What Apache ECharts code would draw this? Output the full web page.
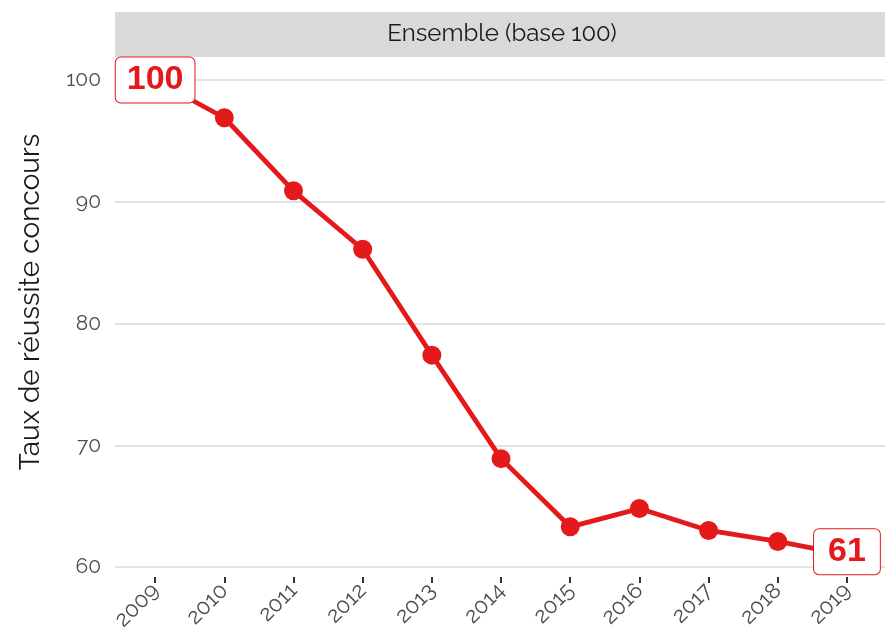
<!DOCTYPE html>
<html>
<head>
<meta charset="utf-8">
<script src="https://cdn.jsdelivr.net/npm/echarts@6/dist/echarts.min.js"></script>
<style>
  html, body { margin: 0; padding: 0; background: #fff; }
  #chart { width: 885px; height: 634px; }
</style>
</head>
<body>
<div id="chart"></div>
<script>
// données
const years = [2009, 2010, 2011, 2012, 2013, 2014, 2015, 2016, 2017, 2018, 2019];
const values = [100, 96.9, 90.9, 86.1, 77.4, 68.9, 63.3, 64.8, 63.0, 62.1, 61];
const yTicks = [60, 70, 80, 90, 100];
const panelTitle = 'Ensemble (base 100)';
const yTitle = 'Taux de réussite concours';

const red = '#e3191c';
const font = 'Raleway, Lato, "Open Sans", sans-serif';

const labelBox = {
  show: true,
  position: 'inside',
  color: red,
  fontFamily: 'Liberation Sans, Arial, sans-serif',
  fontWeight: 'bold',
  fontSize: 34,
  lineHeight: 36,
  backgroundColor: '#fff',
  borderColor: red,
  borderWidth: 1,
  borderRadius: 5,
  padding: [5, 11, 4, 11]
};

const seriesData = years.map((y, i) => {
  const item = { value: [y, values[i]] };
  if (i === 0) {
    item.label = Object.assign({}, labelBox, { formatter: String(values[i]) });
  }
  if (i === years.length - 1) {
    // boîte du dernier point un peu plus large
    item.label = Object.assign({}, labelBox, {
      formatter: String(values[i]),
      padding: [5, 14, 4, 14],
      offset: [0, -3]
    });
  }
  return item;
});

const myChart = echarts.init(document.getElementById('chart'));
const option = {
  animation: false,
  grid: { left: 115, right: 0, top: 80, bottom: 634 - 567 },
  graphic: [
    {
      type: 'rect',
      shape: { x: 115, y: 12, width: 770, height: 45 },
      style: { fill: '#d9d9d9' },
      z: 0
    },
    {
      type: 'text',
      x: 502, y: 34,
      style: {
        text: panelTitle,
        align: 'center',
        verticalAlign: 'middle',
        fill: '#1a1a1a',
        font: '24px ' + font
      }
    },
    {
      type: 'text',
      x: 31, y: 302,
      rotation: Math.PI / 2,
      style: {
        text: yTitle,
        align: 'center',
        verticalAlign: 'middle',
        fill: '#1a1a1a',
        font: '28px ' + font
      }
    }
  ],
  xAxis: {
    type: 'value',
    min: 2008.42,
    max: 2019.55,
    offset: 10,
    axisLine: { show: false },
    splitLine: { show: false },
    axisTick: {
      show: true,
      inside: false,
      length: 6,
      customValues: years,
      lineStyle: { color: '#333', width: 2 }
    },
    axisLabel: {
      customValues: years,
      rotate: 45,
      color: '#4d4d4d',
      fontFamily: font,
      fontSize: 22,
      margin: 10,
      formatter: v => String(v)
    }
  },
  yAxis: {
    type: 'value',
    min: 60,
    max: 100,
    interval: 10,
    axisLine: { show: false },
    axisTick: { show: false },
    axisLabel: {
      color: '#4d4d4d',
      fontFamily: font,
      fontSize: 21,
      margin: 14,
      customValues: yTicks
    },
    splitLine: { show: true, lineStyle: { color: '#d9d9d9', width: 1.5 } }
  },
  series: [
    {
      type: 'line',
      data: seriesData,
      symbol: 'circle',
      symbolSize: 19,
      itemStyle: { color: red },
      lineStyle: { color: red, width: 4.8 },
      clip: false,
      z: 3
    }
  ]
};
myChart.setOption(option);
window.addEventListener('resize', () => {
  myChart.resize();
});
</script>
</body>
</html>
